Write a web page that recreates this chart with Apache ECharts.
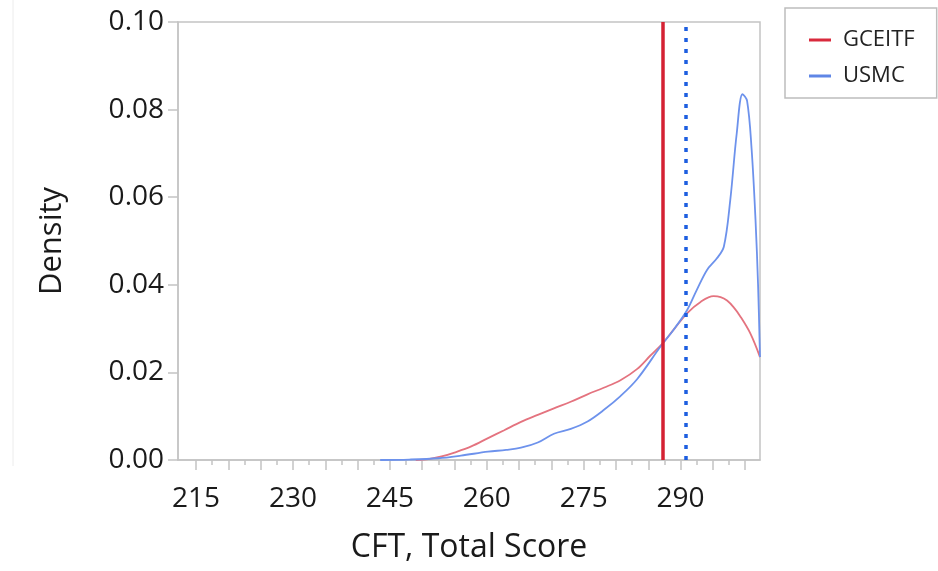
<!DOCTYPE html>
<html>
<head>
<meta charset="utf-8">
<script src="https://cdn.jsdelivr.net/npm/echarts@6/dist/echarts.min.js"></script>
<style>
html,body{margin:0;padding:0;background:#fff;}
#chart{width:938px;height:571px;}
</style>
</head>
<body>
<div id="chart"></div>
<script>
// ---- data ----
const seriesNames = ['GCEITF', 'USMC'];
const gceitfX = [249, 251, 253, 255, 257.6, 260.2, 262.7, 265.3, 267.9, 270.4, 273.0, 275.6, 278.1, 280.7, 283.3, 285.3, 287.2, 288.9, 291.0, 293.1, 295.1, 296.2, 297.2, 298.2, 299.2, 300.8, 302.3];
const gceitfY = [0.0, 0.0002, 0.0008, 0.0017, 0.0031, 0.0050, 0.0068, 0.0087, 0.0103, 0.0118, 0.0133, 0.0150, 0.0165, 0.0182, 0.0208, 0.0238, 0.0266, 0.0297, 0.0335, 0.0361, 0.0374, 0.0372, 0.0364, 0.0349, 0.0329, 0.0289, 0.0235];
const usmcX = [243.5, 248, 252.5, 256, 260.2, 263, 265.3, 267.9, 270.4, 273.0, 275.6, 278.1, 280.7, 283.3, 286.9, 288.9, 291.0, 292.5, 294.1, 295.6, 296.7, 297.7, 298.7, 299.6, 300.3, 301.0, 301.6, 302.0, 302.3];
const usmcY = [0.0, 0.0001, 0.0004, 0.0010, 0.0019, 0.0023, 0.0028, 0.0040, 0.0060, 0.0071, 0.0088, 0.0114, 0.0146, 0.0185, 0.0259, 0.0297, 0.0342, 0.0388, 0.0434, 0.0460, 0.0487, 0.0594, 0.0746, 0.0835, 0.0820, 0.0710, 0.0550, 0.0400, 0.0235];
const meanLines = [287.3, 290.8]; // GCEITF (solid), USMC (dotted)
const xTickLabels = [215, 230, 245, 260, 275, 290];
const xMajorTicks = [215, 220, 225, 230, 235, 240, 245, 250, 255, 260, 265, 270, 275, 280, 285, 290, 295, 300];
const xMinorTicks = [217.5, 222.5, 227.5, 232.5, 237.5, 242.5, 247.5, 252.5, 257.5, 262.5, 267.5, 272.5, 277.5, 282.5, 287.5, 292.5, 297.5];
const xRange = [212.2, 302.3];
const yRange = [0, 0.1];
const yStep = 0.02;

const pair = (xs, ys) => xs.map((x, i) => [x, ys[i]]);
const FONT = 'Open Sans';
const axisGrey = '#c4c4c4';

const chart = echarts.init(document.getElementById('chart'), null, {renderer: 'canvas'});
chart.setOption({
  animation: false,
  backgroundColor: '#fff',
  textStyle: {fontFamily: FONT},
  graphic: [{
    type: 'line', shape: {x1: 13, y1: 0, x2: 13, y2: 466},
    style: {stroke: '#ececec', lineWidth: 1}, silent: true
  }],
  legend: {
    orient: 'vertical',
    left: 785, top: 8,
    padding: [21, 22, 11, 24],
    itemGap: 14,
    itemWidth: 22, itemHeight: 3,
    icon: 'rect',
    borderColor: '#bdbdbd', borderWidth: 1.5,
    textStyle: {fontSize: 22, color: '#222', fontFamily: FONT, padding: [0, 0, 0, 7]},
    data: [
      {name: seriesNames[0], itemStyle: {color: '#d92a3c'}},
      {name: seriesNames[1], itemStyle: {color: '#5f86e6'}}
    ]
  },
  grid: {
    left: 178, right: 178, top: 22, bottom: 111,
    show: true, borderColor: axisGrey, borderWidth: 1.5, containLabel: false
  },
  xAxis: [{
    type: 'value', min: xRange[0], max: xRange[1],
    name: 'CFT, Total Score', nameLocation: 'middle', nameGap: 72,
    nameTextStyle: {fontSize: 32, color: '#1a1a1a', fontFamily: FONT},
    axisLine: {show: true, lineStyle: {color: axisGrey, width: 1.5}},
    axisTick: {show: true, customValues: xMajorTicks, length: 10, inside: false, lineStyle: {color: axisGrey, width: 1.5}},
    axisLabel: {customValues: xTickLabels, fontSize: 28, color: '#1a1a1a', margin: 25, fontFamily: FONT},
    splitLine: {show: false}
  }, {
    type: 'value', min: xRange[0], max: xRange[1], position: 'bottom',
    axisLine: {show: false},
    axisTick: {show: true, customValues: xMinorTicks, length: 5, lineStyle: {color: axisGrey, width: 1.5}},
    axisLabel: {show: false},
    splitLine: {show: false}
  }],
  yAxis: {
    type: 'value', min: yRange[0], max: yRange[1], interval: yStep,
    name: 'Density', nameLocation: 'middle', nameGap: 110,
    nameTextStyle: {fontSize: 31, color: '#1a1a1a', fontFamily: FONT},
    axisLine: {show: true, lineStyle: {color: axisGrey, width: 1.5}},
    axisTick: {show: true, length: 10, lineStyle: {color: axisGrey, width: 1.5}},
    axisLabel: {fontSize: 28, color: '#1a1a1a', margin: 14, fontFamily: FONT, formatter: v => v.toFixed(2)},
    splitLine: {show: false}
  },
  series: [{
    name: seriesNames[0], type: 'line', xAxisIndex: 0,
    data: pair(gceitfX, gceitfY),
    smooth: 0.35, showSymbol: false, symbol: 'none',
    itemStyle: {color: '#e4737f'},
    lineStyle: {color: '#e4737f', width: 1.8},
    z: 3,
    markLine: {
      silent: true, symbol: 'none', label: {show: false},
      lineStyle: {color: '#d42233', width: 3.5, type: 'solid'},
      data: [{xAxis: meanLines[0]}]
    }
  }, {
    name: seriesNames[1], type: 'line', xAxisIndex: 0,
    data: pair(usmcX, usmcY),
    smooth: 0.35, showSymbol: false, symbol: 'none',
    itemStyle: {color: '#6d92ec'},
    lineStyle: {color: '#6d92ec', width: 1.8},
    z: 4,
    markLine: {
      silent: true, symbol: 'none', label: {show: false},
      lineStyle: {color: '#1d5ee0', width: 3.5, type: [4, 7]},
      data: [{xAxis: meanLines[1]}]
    }
  }]
});
</script>
</body>
</html>
